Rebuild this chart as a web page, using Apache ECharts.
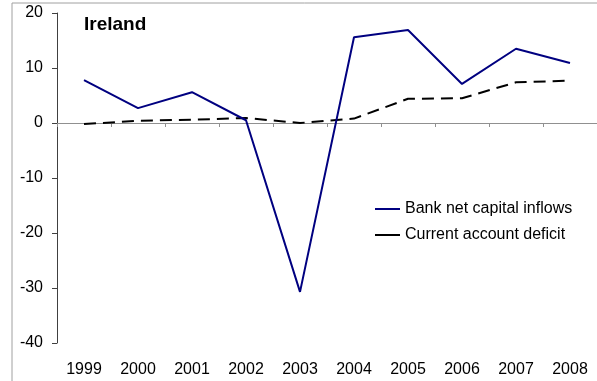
<!DOCTYPE html>
<html>
<head>
<meta charset="utf-8">
<style>
html, body { margin: 0; padding: 0; background: #fff; }
#main { width: 597px; height: 381px; }
</style>
<script src="https://cdn.jsdelivr.net/npm/echarts@6/dist/echarts.min.js"></script>
</head>
<body>
<div id="main"></div>
<script>
// 年份
const years = ['1999', '2000', '2001', '2002', '2003', '2004', '2005', '2006', '2007', '2008']
// 银行净资本流入
const bankInflows = [7.8, 2.7, 5.6, 0.5, -30.7, 15.6, 16.9, 7.1, 13.5, 10.9]
// 经常账户赤字
const caDeficit = [-0.2, 0.4, 0.6, 0.9, 0.0, 0.8, 4.4, 4.5, 7.4, 7.7]
const yTicks = { min: -40, max: 20, interval: 10 }

const font = 'Liberation Sans, Arial, sans-serif'
const chart = echarts.init(document.getElementById('main'))

chart.setOption({
  animation: false,
  textStyle: { fontFamily: font },
  title: {
    text: 'Ireland',
    left: 79,
    top: 10,
    textStyle: { fontSize: 19, fontWeight: 'bold', color: '#000', fontFamily: font }
  },
  graphic: [{
    type: 'polyline',
    shape: { points: [[12, 381], [12, 3], [597, 3]] },
    style: { stroke: '#a0a0a0', lineWidth: 1, fill: null },
    silent: true
  }],
  legend: {
    orient: 'vertical',
    left: 375,
    top: 201,
    padding: 0,
    itemWidth: 25,
    itemHeight: 2,
    itemGap: 10,
    textStyle: { fontSize: 16, lineHeight: 16, color: '#000', fontFamily: font },
    data: [
      { name: 'Bank net capital inflows', icon: 'rect', itemStyle: { color: '#000080' } },
      { name: 'Current account deficit', icon: 'rect', itemStyle: { color: '#000' } }
    ]
  },
  grid: { left: 57, right: 0, top: 13, bottom: 38 },
  xAxis: [{
    type: 'category',
    data: years,
    boundaryGap: true,
    position: 'bottom',
    axisLine: { show: false, onZero: false },
    axisTick: { show: false },
    axisLabel: { fontSize: 16, color: '#000', margin: 19, fontFamily: font }
  }, {
    type: 'category',
    data: years,
    boundaryGap: true,
    position: 'bottom',
    axisLine: { show: true, onZero: true, lineStyle: { color: '#909090', width: 1 } },
    axisTick: { show: true, length: 4, lineStyle: { color: '#909090' } },
    axisLabel: { show: false },
    splitLine: { show: false }
  }],
  yAxis: {
    type: 'value',
    min: yTicks.min,
    max: yTicks.max,
    interval: yTicks.interval,
    axisLine: { show: true, lineStyle: { color: '#404040', width: 1 } },
    axisTick: { show: true, length: 5, lineStyle: { color: '#404040' } },
    axisLabel: { fontSize: 16, color: '#000', margin: 14, fontFamily: font },
    splitLine: { show: false }
  },
  series: [{
    name: 'Bank net capital inflows',
    type: 'line',
    data: bankInflows,
    showSymbol: false,
    lineStyle: { color: '#000080', width: 2 },
    itemStyle: { color: '#000080' },
    z: 3
  }, {
    name: 'Current account deficit',
    type: 'line',
    data: caDeficit,
    showSymbol: false,
    lineStyle: { color: '#000', width: 2, type: [12, 7] },
    itemStyle: { color: '#000' },
    z: 2
  }]
})
</script>
</body>
</html>
